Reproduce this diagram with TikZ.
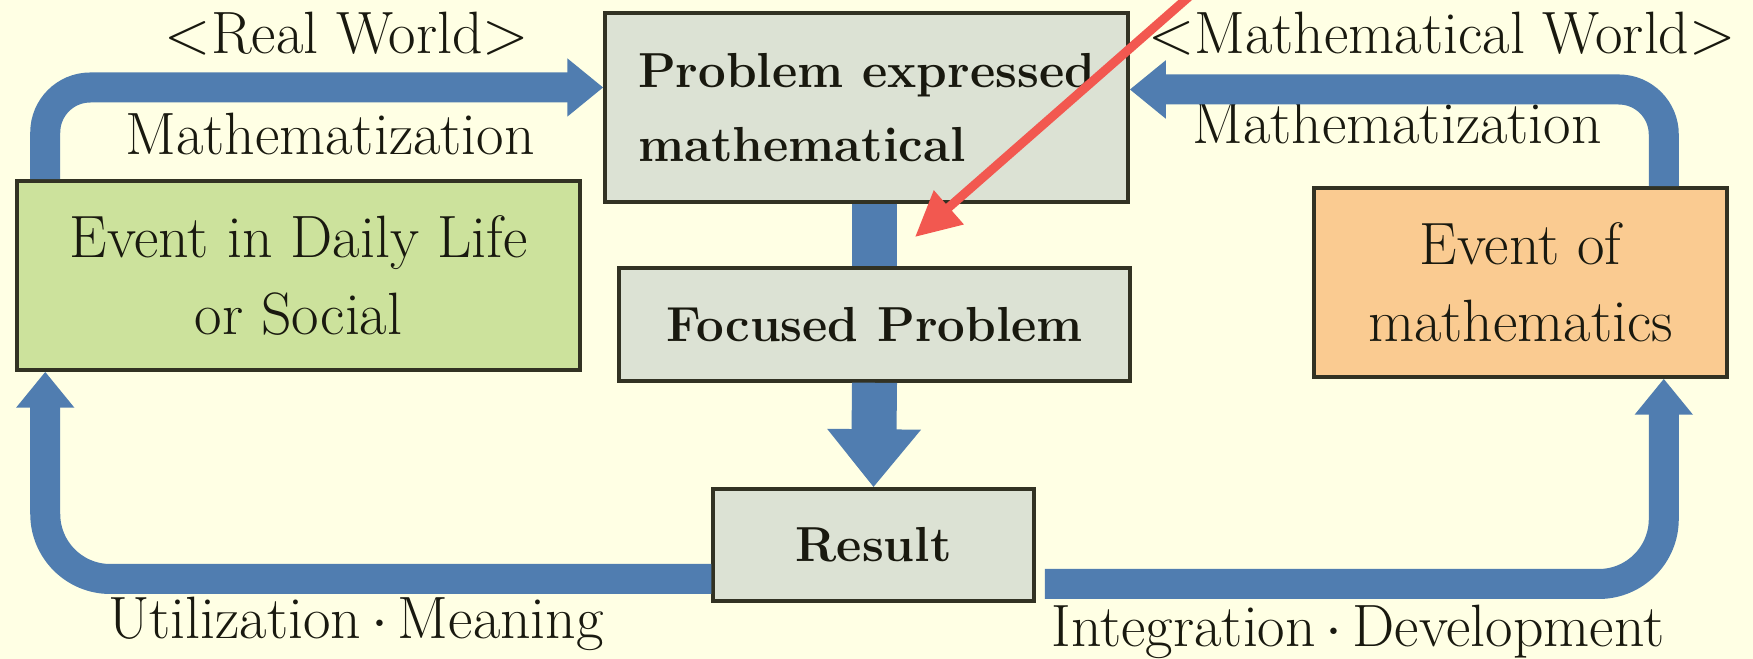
\documentclass[tikz,border=0pt]{standalone}
\usepackage{xcolor}
\usepackage{tikz}
\usetikzlibrary{arrows.meta, calc, positioning}

\definecolor{bgcream}{RGB}{255,255,228}
\definecolor{boxgray}{RGB}{220,226,212}
\definecolor{boxgreen}{RGB}{204,226,156}
\definecolor{boxorange}{RGB}{250,203,145}
\definecolor{flowblue}{RGB}{80,125,176}
\definecolor{edgedark}{RGB}{50,50,35}
\definecolor{inkdark}{RGB}{25,25,15}
\definecolor{markred}{RGB}{242,88,80}

\tikzset{
  box/.style={draw=edgedark, line width=1pt, inner sep=0pt, text=inkdark,
    font=\fontsize{17}{22}\selectfont},
  graybox/.style={box, fill=boxgray, font=\bfseries\fontsize{14}{21}\selectfont},
  flow/.style={draw=flowblue, line width=0.3cm},
  flowtip/.style={flow, -{Triangle[length=0.36cm, width=0.56cm]}},
  lbl/.style={text=inkdark, font=\fontsize{17}{20}\selectfont},
}

\begin{document}
\begin{tikzpicture}
\fill[bgcream] (0,0) rectangle (17.53,6.59);
\useasboundingbox (0,0) rectangle (17.53,6.59);

% boxes
\node[graybox, minimum width=5.23cm, minimum height=1.89cm, align=left] (prob) at (8.665,5.515)
  {Problem expressed\\mathematical};
\node[graybox, minimum width=5.11cm, minimum height=1.13cm] (foc) at (8.745,3.345) {Focused Problem};
\node[graybox, minimum width=3.21cm, minimum height=1.12cm] (res) at (8.735,1.14) {Result};
\node[box, fill=boxgreen, minimum width=5.63cm, minimum height=1.89cm, align=center] (daily) at (2.985,3.835)
  {Event in Daily Life\\or Social};
\node[box, fill=boxorange, minimum width=4.13cm, minimum height=1.89cm, align=center] (mathev) at (15.205,3.765)
  {Event of\\mathematics};

% labels
\node[lbl] (realw) at (3.47,6.25) {$<$Real World$>$};
\node[lbl] (mathzl) at (3.30,5.25) {Mathematization};
\node[lbl] (mathw) at (14.42,6.25) {$<$Mathematical World$>$};
\node[lbl] (mathzr) at (13.97,5.36) {Mathematization};
\node[lbl] (util) at (3.56,0.35) {Utilization\,$\cdot$\,Meaning};
\node[lbl] (integ) at (13.58,0.27) {Integration\,$\cdot$\,Development};

% flows
\draw[flowtip, rounded corners=0.45cm] ([xshift=0.3cm]daily.north west) |- ([yshift=0.2cm]prob.west);
\draw[flowtip, rounded corners=0.45cm] ([xshift=-0.65cm]mathev.north east) |- ([yshift=0.18cm]prob.east);
\draw[flow, line width=0.45cm] (prob.south -| foc.north) -- (foc.north);
\draw[flow, line width=0.45cm, -{Triangle[length=0.58cm, width=0.9cm]}] (foc.south) -- (res.north);
\draw[flowtip, rounded corners=0.65cm] ([yshift=-0.34cm]res.west) -| ([xshift=0.3cm]daily.south west);
\draw[flowtip, rounded corners=0.65cm] ([xshift=0.09cm, yshift=-0.39cm]res.east) -| ([xshift=-0.65cm]mathev.south east);

% red pointer
\coordinate (redfrom) at (12.0,6.72);
\coordinate (redto) at (9.15,4.22);
\draw[markred, line width=0.09cm, -{Triangle[length=0.45cm, width=0.43cm]}] (redfrom) -- (redto);
\end{tikzpicture}
\end{document}
